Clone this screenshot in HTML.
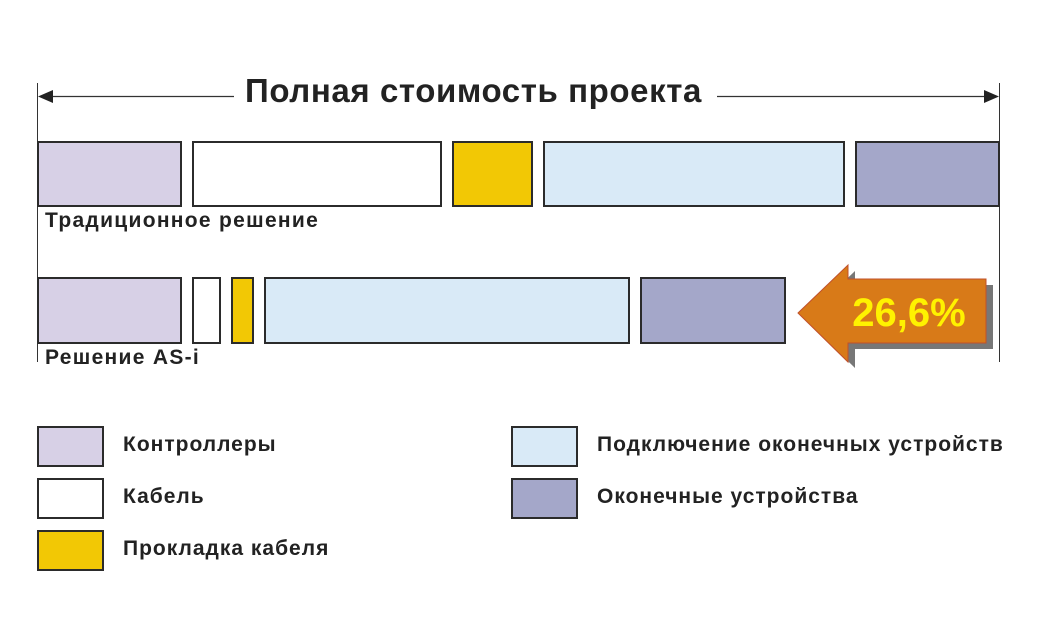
<!DOCTYPE html>
<html><head><meta charset="utf-8"><style>
body{margin:0;background:#fff;width:1042px;height:640px;overflow:hidden;position:relative;font-family:"Liberation Sans",sans-serif}
.b{position:absolute;box-sizing:border-box;border:2px solid #2b2b2b}
.t{position:absolute;font-weight:bold;color:#222;white-space:nowrap}
.l{background:#d7d0e6}.w{background:#fff}.y{background:#f2c805}.c{background:#d9eaf7}.p{background:#a4a7c9}
.lg{font-size:21px;letter-spacing:1px}
</style></head><body>
<svg width="1042" height="640" style="position:absolute;left:0;top:0">
<line x1="37.5" y1="83" x2="37.5" y2="362" stroke="#333" stroke-width="1"/>
<line x1="999.5" y1="83" x2="999.5" y2="362" stroke="#333" stroke-width="1"/>
<line x1="40" y1="96.5" x2="234" y2="96.5" stroke="#333" stroke-width="1.3"/>
<line x1="717" y1="96.5" x2="997" y2="96.5" stroke="#333" stroke-width="1.3"/>
<polygon points="38,96.5 53,90 53,103" fill="#222"/>
<polygon points="999,96.5 984,90 984,103" fill="#222"/>
<polygon points="805,319 855,271 855,285 993,285 993,349 855,349 855,368" fill="#777"/>
<polygon points="798,313 848,265 848,279 986,279 986,343 848,343 848,362" fill="#d87a18" stroke="#c0502a" stroke-width="1"/>
<text x="909" y="326" text-anchor="middle" font-family="Liberation Sans" font-weight="bold" font-size="40" fill="#fff200">26,6%</text>
</svg>
<div class="t" style="left:0;width:947px;text-align:center;top:72px;font-size:33px;letter-spacing:0.6px">Полная стоимость проекта</div>
<div class="b l" style="left:37px;top:141px;width:145px;height:66px"></div>
<div class="b w" style="left:192px;top:141px;width:250px;height:66px"></div>
<div class="b y" style="left:452px;top:141px;width:81px;height:66px"></div>
<div class="b c" style="left:543px;top:141px;width:302px;height:66px"></div>
<div class="b p" style="left:855px;top:141px;width:145px;height:66px"></div>
<div class="t" style="left:45px;top:209px;font-size:21px;letter-spacing:1.3px">Традиционное решение</div>
<div class="b l" style="left:37px;top:277px;width:145px;height:67px"></div>
<div class="b w" style="left:192px;top:277px;width:29px;height:67px"></div>
<div class="b y" style="left:231px;top:277px;width:23px;height:67px"></div>
<div class="b c" style="left:264px;top:277px;width:366px;height:67px"></div>
<div class="b p" style="left:640px;top:277px;width:146px;height:67px"></div>
<div class="t" style="left:45px;top:346px;font-size:21px;letter-spacing:1.3px">Решение AS-i</div>
<div class="b l" style="left:37px;top:426px;width:67px;height:41px"></div>
<div class="b w" style="left:37px;top:478px;width:67px;height:41px"></div>
<div class="b y" style="left:37px;top:530px;width:67px;height:41px"></div>
<div class="b c" style="left:511px;top:426px;width:67px;height:41px"></div>
<div class="b p" style="left:511px;top:478px;width:67px;height:41px"></div>
<div class="t lg" style="left:123px;top:433px">Контроллеры</div>
<div class="t lg" style="left:123px;top:485px">Кабель</div>
<div class="t lg" style="left:123px;top:537px">Прокладка кабеля</div>
<div class="t lg" style="left:597px;top:433px">Подключение оконечных устройств</div>
<div class="t lg" style="left:597px;top:485px">Оконечные устройства</div>
</body></html>
